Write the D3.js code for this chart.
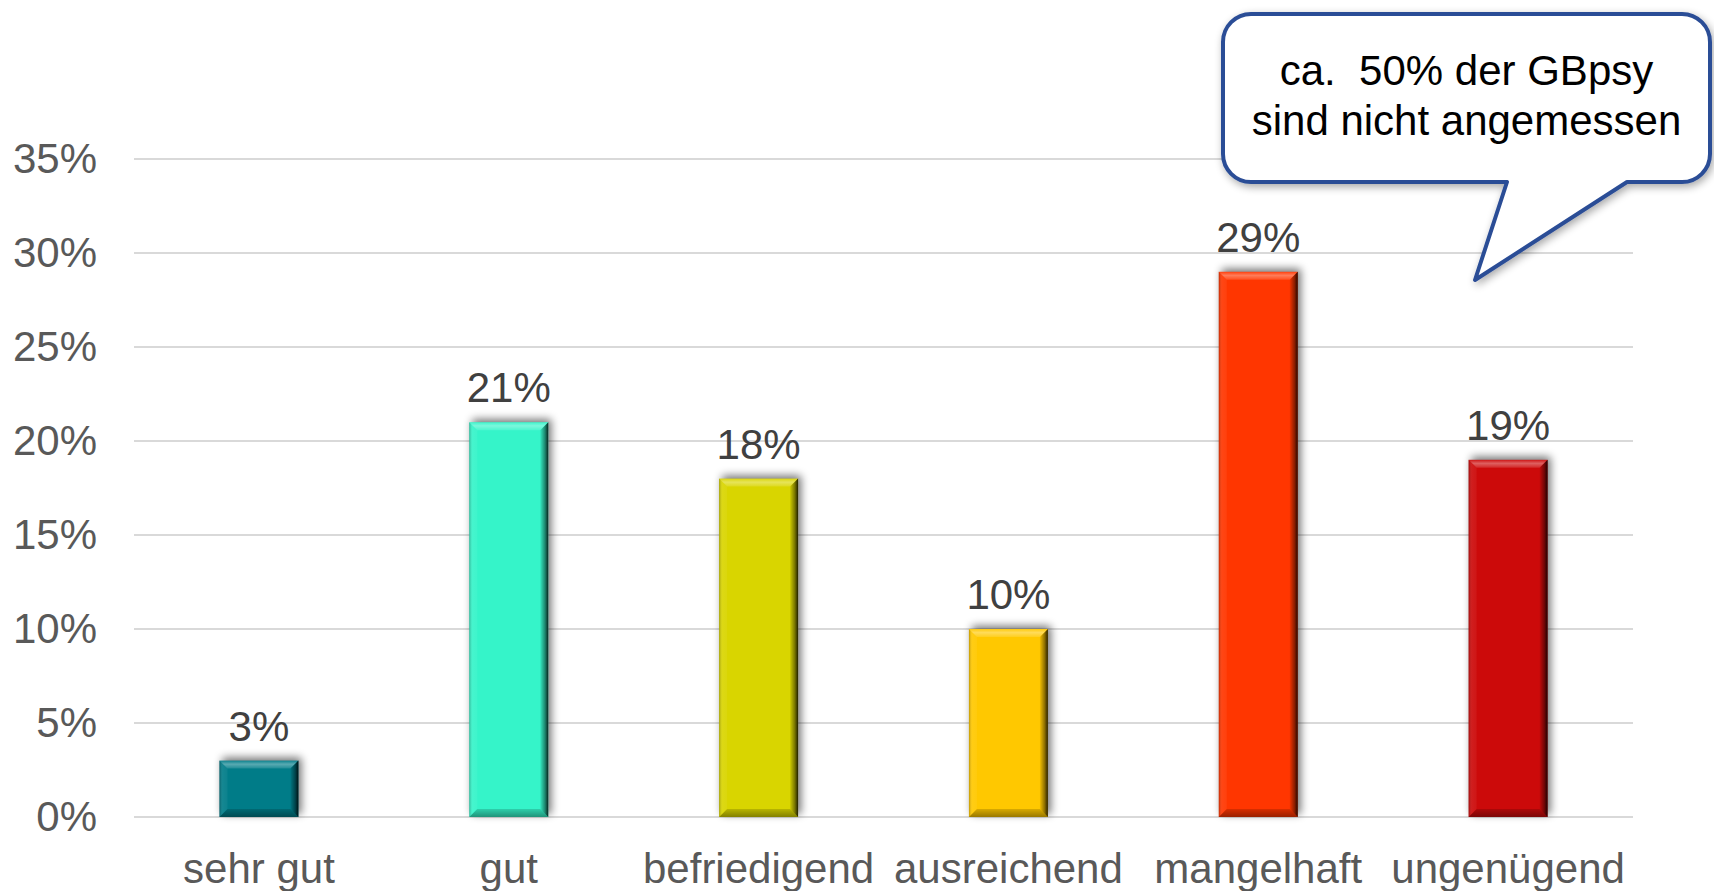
<!DOCTYPE html>
<html>
<head>
<meta charset="utf-8">
<script src="https://cdn.jsdelivr.net/npm/d3@7"></script>
<style>
  html, body { margin: 0; padding: 0; background: #fff; }
  svg { display: block; font-family: "Liberation Sans", Arial, sans-serif; }
</style>
</head>
<body>
<svg id="chart" width="1714" height="891"></svg>
<script>
// Rating categories and share of assessments per rating
const categories = ["sehr gut", "gut", "befriedigend", "ausreichend", "mangelhaft", "ungenügend"];
const shares = [0.03, 0.21, 0.18, 0.10, 0.29, 0.19];
const barColors = ["#007c88", "#35f4c9", "#d9d500", "#ffc800", "#ff3600", "#cc0a0a"];
const yTicks = [0, 0.05, 0.10, 0.15, 0.20, 0.25, 0.30, 0.35];
const calloutLines = ["ca.  50% der GBpsy", "sind nicht angemessen"];

const svg = d3.select("#chart");
const margin = { left: 134, right: 81, top: 159, bottom: 74 };
const W = 1714, H = 891;
const FONT = "'Liberation Sans', Arial, sans-serif";

const x = d3.scaleBand().domain(categories)
  .range([margin.left, W - margin.right]).paddingInner(0.684).paddingOuter(0.342);
const y = d3.scaleLinear().domain([0, 0.35]).range([H - margin.bottom, margin.top]);

const defs = svg.append("defs");

// soft outer shadow for the bars
const sh = defs.append("filter").attr("id", "barShadow")
  .attr("x", "-30%").attr("y", "-30%").attr("width", "160%").attr("height", "160%");
sh.append("feGaussianBlur").attr("in", "SourceAlpha").attr("stdDeviation", 4).attr("result", "b");
sh.append("feOffset").attr("in", "b").attr("dx", 3).attr("dy", -3).attr("result", "o");
sh.append("feComponentTransfer").attr("in", "o")
  .append("feFuncA").attr("type", "linear").attr("slope", 0.55);

// callout shadow
const cs = defs.append("filter").attr("id", "calloutShadow")
  .attr("x", "-10%").attr("y", "-10%").attr("width", "120%").attr("height", "130%");
cs.append("feGaussianBlur").attr("in", "SourceAlpha").attr("stdDeviation", 4).attr("result", "b");
cs.append("feOffset").attr("in", "b").attr("dx", 2).attr("dy", 3).attr("result", "o");
cs.append("feComponentTransfer").attr("in", "o").attr("result", "s")
  .append("feFuncA").attr("type", "linear").attr("slope", 0.35);
const csm = cs.append("feMerge");
csm.append("feMergeNode").attr("in", "s");
csm.append("feMergeNode").attr("in", "SourceGraphic");

// bevel shading gradients
function grad(id, x1, y1, x2, y2, stops) {
  const g = defs.append("linearGradient").attr("id", id)
    .attr("x1", x1).attr("y1", y1).attr("x2", x2).attr("y2", y2);
  stops.forEach(s => g.append("stop").attr("offset", s[0])
    .attr("stop-color", s[1]).attr("stop-opacity", s[2]));
}
grad("bevTop", 0, 0, 0, 1, [[0, "#fff", 0.05], [0.45, "#fff", 0.35], [1, "#fff", 0.12]]);
grad("bevLeft", 0, 0, 1, 0, [[0, "#000", 0.25], [0.4, "#fff", 0.08], [1, "#fff", 0.05]]);
grad("bevRight", 0, 0, 1, 0, [[0, "#000", 0.05], [0.6, "#000", 0.45], [1, "#000", 0.85]]);
grad("bevBottom", 0, 0, 0, 1, [[0, "#000", 0.15], [1, "#000", 0.4]]);

// grid lines
svg.append("g").selectAll("line").data(yTicks).join("line")
  .attr("x1", margin.left).attr("x2", W - margin.right)
  .attr("y1", d => y(d)).attr("y2", d => y(d))
  .attr("stroke", "#d9d9d9").attr("stroke-width", 2);

// y axis labels
const yAxis = svg.append("g").attr("transform", `translate(${margin.left - 37},0)`)
  .call(d3.axisLeft(y).tickValues(yTicks).tickFormat(d3.format(".0%")).tickSize(0).tickPadding(0));
yAxis.attr("font-family", FONT);
yAxis.select(".domain").remove();
yAxis.selectAll("text").attr("font-size", 42).attr("fill", "#595959");

// x axis labels
const xAxis = svg.append("g").attr("transform", `translate(0,${y(0)})`)
  .call(d3.axisBottom(x).tickSize(0).tickPadding(36));
xAxis.attr("font-family", FONT);
xAxis.select(".domain").remove();
xAxis.selectAll("text").attr("font-size", 42).attr("fill", "#595959");

// bars with bevel
const data = categories.map((c, i) => ({ c, v: shares[i], color: barColors[i] }));
const bars = svg.append("g").selectAll("g").data(data).join("g");
const bv = 8;

bars.append("rect")
  .attr("x", d => x(d.c)).attr("y", d => y(d.v))
  .attr("width", x.bandwidth()).attr("height", d => y(0) - y(d.v))
  .attr("fill", "#000").attr("filter", "url(#barShadow)");
bars.append("rect")
  .attr("x", d => x(d.c)).attr("y", d => y(d.v))
  .attr("width", x.bandwidth()).attr("height", d => y(0) - y(d.v))
  .attr("fill", d => d.color);

function pts(arr) { return arr.map(p => p.join(",")).join(" "); }
bars.each(function(d) {
  const g = d3.select(this);
  const x0 = x(d.c), x1 = x0 + x.bandwidth(), y0 = y(d.v), y1 = y(0);
  g.append("polygon").attr("points", pts([[x0, y0], [x1, y0], [x1 - bv, y0 + bv], [x0 + bv, y0 + bv]]))
    .attr("fill", "url(#bevTop)");
  g.append("polygon").attr("points", pts([[x0, y0], [x0 + bv, y0 + bv], [x0 + bv, y1 - bv], [x0, y1]]))
    .attr("fill", "url(#bevLeft)");
  g.append("polygon").attr("points", pts([[x1, y0], [x1, y1], [x1 - bv, y1 - bv], [x1 - bv, y0 + bv]]))
    .attr("fill", "url(#bevRight)");
  g.append("polygon").attr("points", pts([[x0, y1], [x0 + bv, y1 - bv], [x1 - bv, y1 - bv], [x1, y1]]))
    .attr("fill", "url(#bevBottom)");
});

// value labels
svg.append("g").selectAll("text").data(data).join("text")
  .attr("x", d => x(d.c) + x.bandwidth() / 2)
  .attr("y", d => y(d.v) - 20)
  .attr("text-anchor", "middle")
  .attr("font-size", 42).attr("fill", "#404040")
  .text(d => d3.format(".0%")(d.v));

// speech-bubble callout
const bx0 = 1223, bx1 = 1710, by0 = 14, by1 = 182, r = 28;
const tailA = 1507, tailB = 1627, tipX = 1475, tipY = 280;
const p = d3.path();
p.moveTo(bx0 + r, by0);
p.lineTo(bx1 - r, by0);
p.arcTo(bx1, by0, bx1, by0 + r, r);
p.lineTo(bx1, by1 - r);
p.arcTo(bx1, by1, bx1 - r, by1, r);
p.lineTo(tailB, by1);
p.lineTo(tipX, tipY);
p.lineTo(tailA, by1);
p.lineTo(bx0 + r, by1);
p.arcTo(bx0, by1, bx0, by1 - r, r);
p.lineTo(bx0, by0 + r);
p.arcTo(bx0, by0, bx0 + r, by0, r);
p.closePath();
svg.append("path").attr("d", p.toString())
  .attr("fill", "#fff").attr("stroke", "#2c4d96").attr("stroke-width", 4)
  .attr("stroke-linejoin", "round").attr("filter", "url(#calloutShadow)");

svg.append("g").selectAll("text").data(calloutLines).join("text")
  .attr("x", (bx0 + bx1) / 2).attr("y", (d, i) => 85 + i * 50)
  .attr("text-anchor", "middle").attr("font-size", 42).attr("fill", "#000")
  .style("white-space", "pre")
  .text(d => d);
</script>
</body>
</html>
